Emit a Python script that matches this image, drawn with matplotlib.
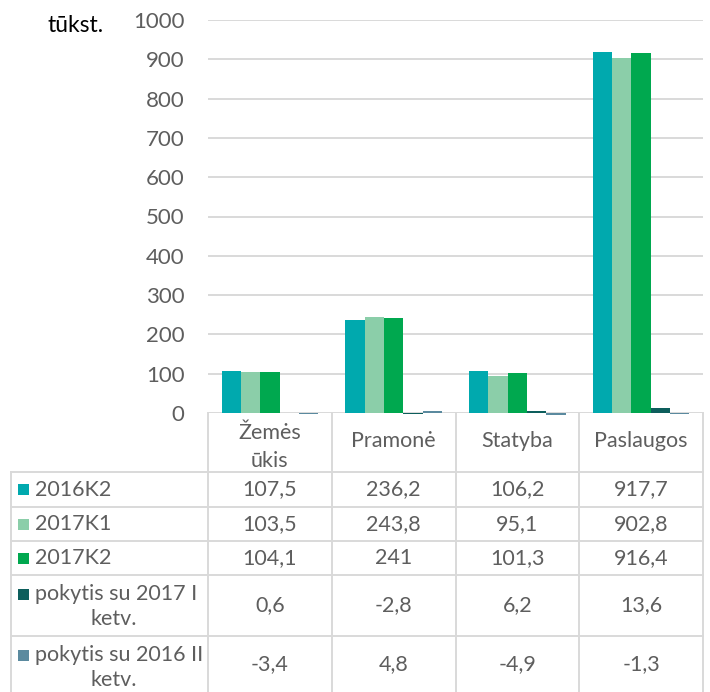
import matplotlib
matplotlib.use("Agg")
import matplotlib.pyplot as plt
from matplotlib import transforms
from matplotlib.patches import Rectangle

plt.rcParams['font.family'] = ['Lato', 'DejaVu Sans']

categories = ["Žemės\nūkis", "Pramonė", "Statyba", "Paslaugos"]
series_names = ["2016K2", "2017K1", "2017K2", "pokytis su 2017 I\nketv.", "pokytis su 2016 II\nketv."]
s2016K2 = [107.5, 236.2, 106.2, 917.7]
s2017K1 = [103.5, 243.8, 95.1, 902.8]
s2017K2 = [104.1, 241.0, 101.3, 916.4]
pok_2017I = [0.6, -2.8, 6.2, 13.6]
pok_2016II = [-3.4, 4.8, -4.9, -1.3]
series_values = [s2016K2, s2017K1, s2017K2, pok_2017I, pok_2016II]
colors = ["#00A9AE", "#8BCEA9", "#00A84F", "#0D5E5C", "#5B8A9F"]
yticks = list(range(0, 1001, 100))
unit_label = "tūkst."

TXT = "#5E5E5E"
GRID = "#D9D9D9"
FS = 15.5

W, H = 710, 692
fig = plt.figure(figsize=(W / 100, H / 100), dpi=100)

# table canvas in pixel coordinates
tab = fig.add_axes([0, 0, 1, 1], zorder=0)
tab.set_xlim(0, W)
tab.set_ylim(H, 0)
tab.axis("off")

ax = fig.add_axes([208 / W, 1 - 413 / H, (703 - 208) / W, (413 - 20) / H], zorder=1)
ax.patch.set_alpha(0)
n = len(categories)
ax.set_xlim(-0.5, n - 0.5)
ax.set_ylim(0, 1000)
for s in ax.spines.values():
    s.set_visible(False)
ax.set_yticks(yticks)
ax.set_yticklabels([str(t) for t in yticks], fontsize=FS + 0.5, color=TXT)
ax.tick_params(axis="y", length=0, pad=17)
ax.set_xticks([])
ax.yaxis.grid(True, color=GRID, linewidth=1.4)
ax.set_axisbelow(True)

bw = 0.156
nser = len(series_values)
for i, (vals, c) in enumerate(zip(series_values, colors)):
    xs = [k - bw * nser / 2 + bw * (i + 0.5) for k in range(n)]
    ax.bar(xs, vals, width=bw, color=c, clip_on=False, zorder=3, linewidth=0)

fig.text(48 / W, 1 - 26 / H, unit_label, fontsize=FS + 1, color="#000000", va="center", ha="left")

# data table
bt = transforms.blended_transform_factory(ax.transData, tab.transData)
lw = 1.4
top, hdr = 413, 472
row_edges = [472, 507, 541, 575, 636, 692]
for k in range(n + 1):
    tab.plot([k - 0.5, k - 0.5], [top, 692], color=GRID, lw=lw, transform=bt, clip_on=False)
tab.plot([11, 11], [hdr, 692], color=GRID, lw=lw)
for y in row_edges[:-1]:
    tab.plot([11, 208], [y, y], color=GRID, lw=lw)
    tab.plot([-0.5, n - 0.5], [y, y], color=GRID, lw=lw, transform=bt)

header_y = [447, 441, 441, 441]
for k, cat in enumerate(categories):
    tab.text(k, header_y[k], cat, ha="center", va="center", fontsize=FS, color=TXT,
             transform=bt, linespacing=1.45)

def fmt(v):
    if float(v).is_integer():
        return str(int(v))
    return f"{v}".replace(".", ",")

for r, (name, vals, c) in enumerate(zip(series_names, series_values, colors)):
    y0, y1 = row_edges[r], row_edges[r + 1]
    yc = (y0 + y1) / 2
    lines = name.split("\n")
    if len(lines) == 1:
        ky = yc
    else:
        ky = y0 + 19
    tab.add_patch(Rectangle((18, ky - 5.5), 11, 11, color=c, lw=0))
    tab.text(35, ky, lines[0], ha="left", va="center", fontsize=FS, color=TXT)
    if len(lines) > 1:
        tab.text(114, ky + 25, lines[1], ha="center", va="center", fontsize=FS, color=TXT)
    for k, v in enumerate(vals):
        tab.text(k, yc, fmt(v), ha="center", va="center", fontsize=FS, color=TXT, transform=bt)

fig.savefig("out.png", dpi=100)
